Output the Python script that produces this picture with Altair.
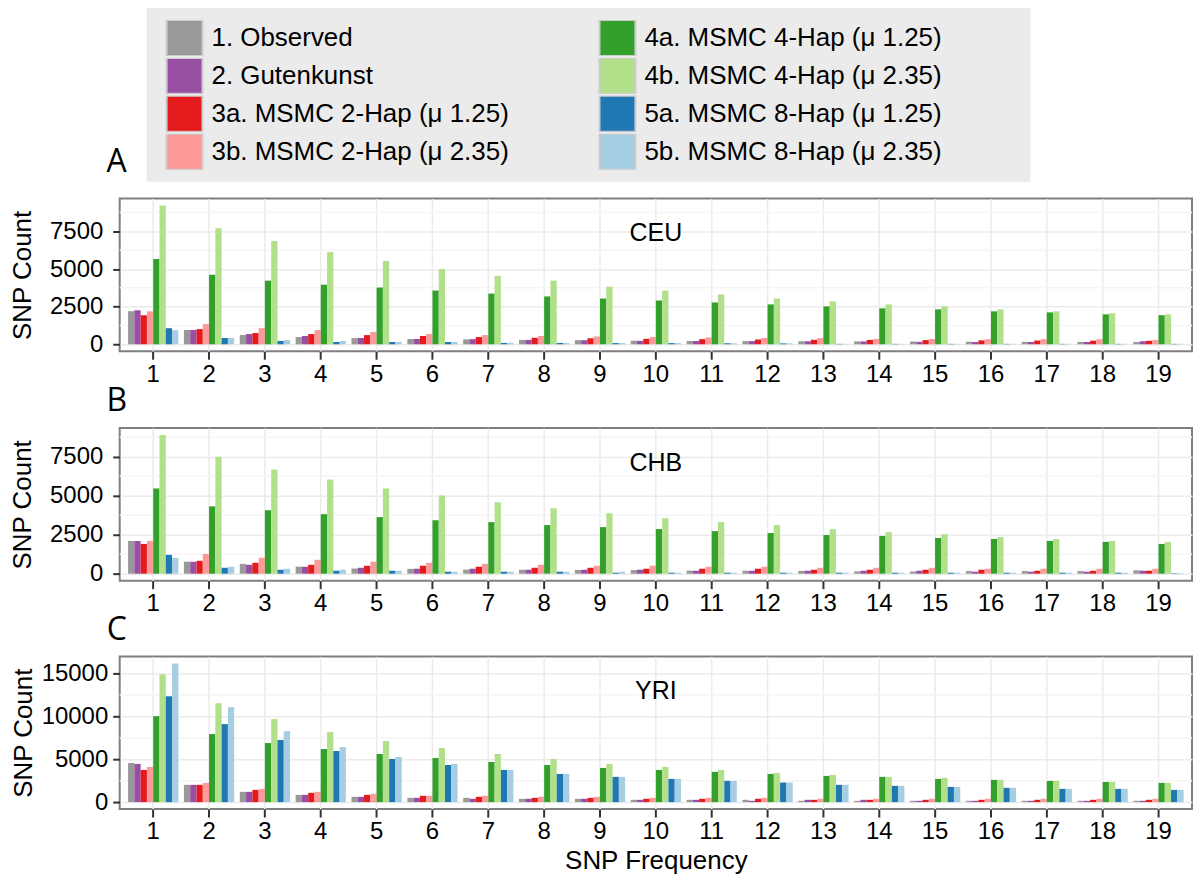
import altair as alt
import pandas as pd

freqs = list(range(1, 20))
series = ["1. Observed", "2. Gutenkunst", "3a. MSMC 2-Hap (μ 1.25)", "3b. MSMC 2-Hap (μ 2.35)",
          "4a. MSMC 4-Hap (μ 1.25)", "4b. MSMC 4-Hap (μ 2.35)", "5a. MSMC 8-Hap (μ 1.25)", "5b. MSMC 8-Hap (μ 2.35)"]
colors = ["#999999", "#984EA3", "#E41A1C", "#FB9A99", "#33A02C", "#B2DF8A", "#1F78B4", "#A6CEE3"]

# CEU (panel A)
ceu_obs = [2200, 950, 620, 480, 410, 350, 330, 290, 270, 240, 220, 210, 200, 190, 180, 170, 160, 160, 150]
ceu_gut = [2260, 950, 680, 550, 420, 350, 340, 290, 270, 230, 220, 210, 200, 190, 160, 150, 150, 150, 200]
ceu_2h1 = [1930, 1010, 745, 680, 610, 550, 480, 430, 400, 360, 340, 320, 300, 290, 280, 260, 250, 240, 230]
ceu_2h2 = [2190, 1340, 1070, 940, 810, 680, 613, 550, 520, 480, 460, 420, 410, 360, 350, 340, 340, 340, 290]
ceu_4h1 = [5670, 4620, 4230, 3960, 3770, 3570, 3370, 3180, 3040, 2910, 2780, 2650, 2520, 2390, 2320, 2190, 2120, 1990, 1930]
ceu_4h2 = [9220, 7710, 6860, 6130, 5540, 5010, 4550, 4230, 3830, 3570, 3310, 3040, 2850, 2650, 2520, 2320, 2190, 2060, 1990]
ceu_8h1 = [1070, 416, 220, 150, 150, 150, 90, 90, 80, 80, 70, 60, 30, 30, 30, 30, 30, 30, 30]
ceu_8h2 = [940, 416, 285, 220, 150, 150, 100, 90, 80, 80, 70, 60, 30, 30, 30, 30, 30, 30, 30]

# CHB (panel B)
chb_obs = [2100, 770, 630, 450, 330, 310, 260, 250, 240, 230, 200, 190, 180, 150, 140, 170, 170, 170, 220]
chb_gut = [2100, 763, 572, 445, 380, 318, 318, 254, 254, 254, 190, 190, 190, 190, 190, 127, 127, 127, 190]
chb_2h1 = [1910, 827, 700, 572, 510, 510, 445, 380, 380, 318, 318, 318, 254, 254, 254, 254, 190, 190, 190]
chb_2h2 = [2100, 1270, 1020, 890, 763, 700, 636, 572, 510, 510, 445, 445, 380, 380, 380, 318, 318, 318, 318]
chb_4h1 = [5470, 4320, 4070, 3820, 3630, 3430, 3310, 3120, 2990, 2860, 2730, 2610, 2480, 2420, 2290, 2230, 2100, 2040, 1910]
chb_4h2 = [8900, 7500, 6680, 6040, 5470, 5020, 4580, 4200, 3880, 3560, 3310, 3120, 2860, 2670, 2540, 2350, 2230, 2100, 2040]
chb_8h1 = [1210, 380, 254, 190, 190, 127, 127, 127, 64, 64, 64, 64, 64, 64, 64, 64, 64, 64, 30]
chb_8h2 = [1020, 445, 318, 254, 190, 127, 127, 127, 127, 64, 64, 64, 64, 64, 64, 64, 64, 64, 30]

# YRI (panel C)
yri_obs = [4570, 2020, 1200, 850, 620, 500, 500, 390, 390, 270, 270, 270, 155, 155, 155, 155, 155, 155, 155]
yri_gut = [4460, 2020, 1200, 850, 620, 500, 390, 390, 390, 270, 270, 155, 270, 270, 155, 155, 155, 155, 155]
yri_2h1 = [3760, 2020, 1430, 1085, 850, 740, 620, 500, 500, 390, 390, 390, 270, 270, 270, 270, 270, 270, 270]
yri_2h2 = [4110, 2250, 1550, 1200, 970, 740, 740, 620, 620, 500, 500, 500, 390, 390, 390, 390, 390, 390, 390]
yri_4h1 = [10040, 7950, 6900, 6200, 5620, 5160, 4690, 4340, 3990, 3760, 3530, 3290, 3060, 2950, 2710, 2600, 2480, 2360, 2250]
yri_4h2 = [14920, 11550, 9690, 8180, 7130, 6320, 5620, 5040, 4460, 4110, 3760, 3410, 3180, 2950, 2830, 2600, 2480, 2360, 2250]
yri_8h1 = [12360, 9110, 7250, 5970, 5040, 4340, 3760, 3290, 2950, 2710, 2480, 2290, 2020, 1900, 1780, 1670, 1550, 1550, 1430]
yri_8h2 = [16200, 11090, 8290, 6430, 5270, 4460, 3760, 3290, 2950, 2710, 2480, 2290, 2020, 1900, 1780, 1670, 1550, 1550, 1430]

ticks_ab = [0, 2500, 5000, 7500]
minor_ab = [1250, 3750, 6250, 8750]
ticks_c = [0, 5000, 10000, 15000]
minor_c = [2500, 7500, 12500]

FONT = "Liberation Sans, Arial, Helvetica, sans-serif"
W = 1075
H = 153
PAD = "\u2800" * 4


def panel(name, letter, cols, yticks, minor, legend, xtitle, letter_y, lab_pad, title_pad):
    rows = []
    for s, vals in zip(series, cols):
        for f, v in zip(freqs, vals):
            rows.append({"freq": f, "series": s, "value": v})
    df = pd.DataFrame(rows)
    ymax = df["value"].max()
    dom = [-0.05 * ymax, 1.05 * ymax]

    if legend:
        leg = alt.Legend(orient="none", legendX=27, legendY=-191, columns=2,
                         title=None, symbolType="square", symbolSize=1296,
                         symbolStrokeColor="#CCCCCC", symbolStrokeWidth=2, symbolOpacity=1,
                         labelFont=FONT, labelFontSize=26, labelColor="black", labelLimit=900,
                         labelOffset=8, symbolOffset=7, padding=12, fillColor="#EBEBEB",
                         clipHeight=36, rowPadding=2, columnPadding=6,
                         labelExpr="datum.label + '" + PAD + "'")
    else:
        leg = None

    yscale = alt.Scale(domain=dom, nice=False, zero=False)
    grid = alt.Chart(pd.DataFrame({"value": minor})).mark_rule(
        color="#F5F5F5", strokeWidth=1.5).encode(y=alt.Y("value:Q", scale=yscale, title="SNP Count"))

    bars = alt.Chart(df).mark_bar().encode(
        x=alt.X("freq:O", scale=alt.Scale(paddingInner=0.1, paddingOuter=0.15),
                axis=alt.Axis(labelAngle=0, grid=True, tickSize=8, labelPadding=3,
                              titlePadding=4),
                title="SNP Frequency" if xtitle else None),
        xOffset=alt.XOffset("series:N", sort=series),
        y=alt.Y("value:Q", scale=yscale,
                axis=alt.Axis(values=yticks, format="d", grid=True, tickSize=7,
                              labelPadding=lab_pad, titlePadding=title_pad),
                title="SNP Count"),
        y2=alt.datum(0),
        color=alt.Color("series:N", sort=series, scale=alt.Scale(domain=series, range=colors), legend=leg),
    )

    name_txt = alt.Chart(pd.DataFrame({"t": [name]})).mark_text(
        font=FONT, fontSize=25, color="black", baseline="middle", align="center").encode(
        text="t:N", x=alt.value(W / 2), y=alt.value(35))
    letter_txt = alt.Chart(pd.DataFrame({"t": [letter]})).mark_text(
        font="Open Sans, Lato, sans-serif", fontSize=32, color="black", baseline="middle",
        align="center").encode(text="t:N", x=alt.value(-3), y=alt.value(letter_y))

    return alt.layer(grid, bars, name_txt, letter_txt).properties(width=W, height=H)


pA = panel("CEU", "A", [ceu_obs, ceu_gut, ceu_2h1, ceu_2h2, ceu_4h1, ceu_4h2, ceu_8h1, ceu_8h2],
           ticks_ab, minor_ab, True, False, -37, 10, 14)
pB = panel("CHB", "B", [chb_obs, chb_gut, chb_2h1, chb_2h2, chb_4h1, chb_4h2, chb_8h1, chb_8h2],
           ticks_ab, minor_ab, False, False, -27, 10, 14)
pC = panel("YRI", "C", [yri_obs, yri_gut, yri_2h1, yri_2h2, yri_4h1, yri_4h2, yri_8h1, yri_8h2],
           ticks_c, minor_c, False, True, -26, 5, 5)

chart = alt.vconcat(pA, pB, pC, spacing=-3).resolve_scale(color="independent").properties(
    padding={"left": 8, "top": 6, "right": 0, "bottom": 0}, background="white"
).configure_view(
    stroke="#7F7F7F", strokeWidth=2, fill="white"
).configure_axis(
    labelFont=FONT, labelFontSize=24, labelColor="black",
    titleFont=FONT, titleFontSize=26, titleFontWeight="normal", titleColor="black",
    tickColor="#333333", tickWidth=2, domain=False, gridColor="#EBEBEB", gridWidth=1.5
)

chart.save("out.html", embed_options={"renderer": "svg", "actions": False})
